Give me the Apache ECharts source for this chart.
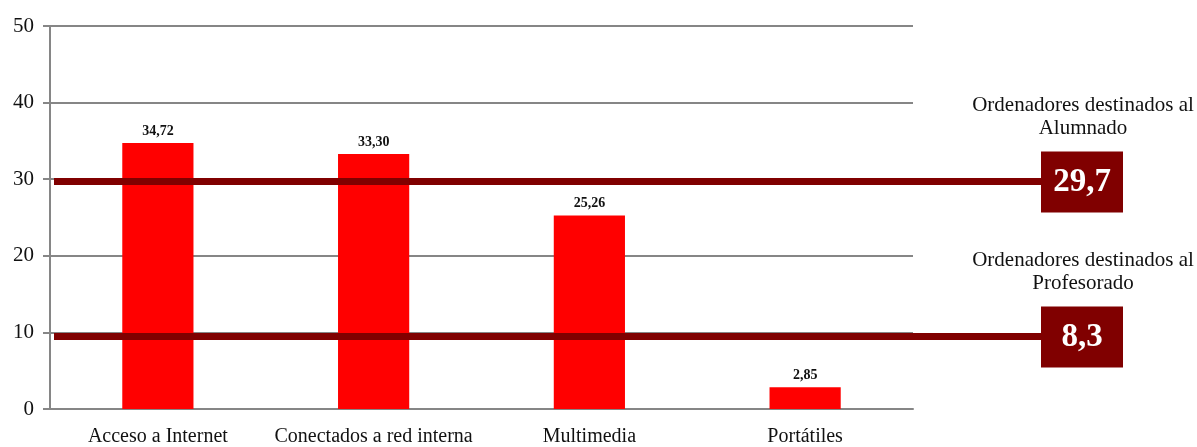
<!DOCTYPE html>
<html>
<head>
<meta charset="utf-8">
<script src="https://cdn.jsdelivr.net/npm/echarts@6/dist/echarts.min.js"></script>
<style>
  html, body { margin: 0; padding: 0; background: #fff; }
  #chart { width: 1197px; height: 447px; }
</style>
</head>
<body>
<div id="chart"></div>
<script>
// datos
const categories = ['Acceso a Internet', 'Conectados a red interna', 'Multimedia', 'Portátiles'];
const values = [34.72, 33.30, 25.26, 2.85];
// niveles de las barras horizontales (tal como aparecen dibujadas)
const refLevels = [29.7, 9.45];
const refLabels = ['29,7', '8,3'];
const refTitles = ['Ordenadores destinados al\nAlumnado', 'Ordenadores destinados al\nProfesorado'];
const yTicks = { min: 0, max: 50, interval: 10 };

const serif = '"Liberation Serif", "DejaVu Serif", serif';
const gray = '#868686';

const chart = echarts.init(document.getElementById('chart'));

const option = {
  animation: false,
  grid: {
    left: 50,
    right: 284,
    top: 26,
    bottom: 38,
    outerBoundsMode: 'none',
  },
  xAxis: {
    type: 'category',
    data: categories,
    boundaryGap: true,
    axisLine: { lineStyle: { color: gray, width: 2 } },
    axisTick: { interval: 0, alignWithLabel: false, length: 6, lineStyle: { color: gray, width: 2 } },
    axisLabel: { interval: 0, color: '#111', fontFamily: serif, fontSize: 20, margin: 18 },
  },
  yAxis: {
    type: 'value',
    ...yTicks,
    axisLine: { show: true, lineStyle: { color: gray, width: 2 } },
    axisTick: { show: true, length: 7, lineStyle: { color: gray, width: 2 } },
    axisLabel: { color: '#111', fontFamily: serif, fontSize: 21, margin: 16 },
    splitLine: { lineStyle: { color: gray, width: 2 } },
  },
  series: [
    {
      type: 'bar',
      data: values,
      barWidth: '33%',
      itemStyle: { color: '#ff0000' },
      label: {
        show: true,
        position: 'top',
        distance: 5,
        color: '#111',
        fontFamily: serif,
        fontWeight: 'bold',
        fontSize: 14,
        formatter: (p) => p.value.toFixed(2).replace('.', ','),
      },
      z: 2,
    },
    {
      type: 'custom',
      clip: false,
      z: 5,
      data: refLevels.map((v) => [0, v]),
      renderItem: (params, api) => {
        const y = api.coord([0, api.value(1)])[1];
        const i = params.dataIndex;
        return {
          type: 'group',
          children: [
            { type: 'rect', shape: { x: 54, y: y - 3.5, width: 988, height: 7 }, style: { fill: '#800000' } },
            { type: 'rect', shape: { x: 1041, y: y - 30, width: 82, height: 61 }, style: { fill: '#800000' } },
            {
              type: 'text', x: 1082, y: y + 1,
              style: { text: refLabels[i], fill: '#fff', font: 'bold 33px ' + serif, align: 'center', verticalAlign: 'middle' },
            },
            {
              type: 'text', x: 1083, y: y - 42,
              style: { text: refTitles[i], fill: '#111', font: '21px ' + serif, align: 'center', verticalAlign: 'bottom', lineHeight: 23 },
            },
          ],
        };
      },
    },
  ],
};

chart.setOption(option, true);
</script>
</body>
</html>
